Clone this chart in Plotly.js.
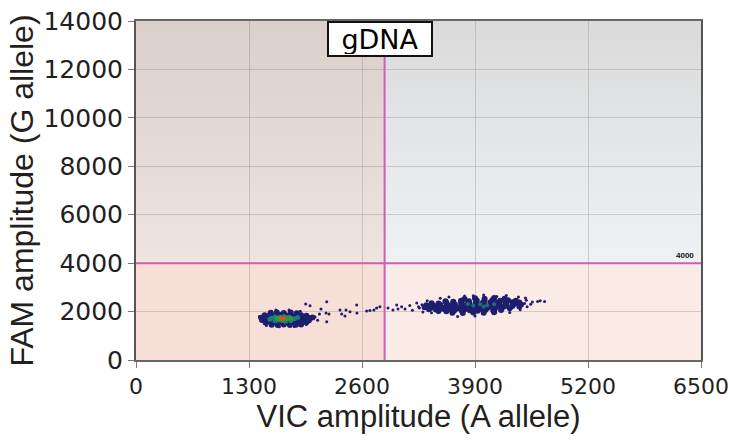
<!DOCTYPE html>
<html>
<head>
<meta charset="utf-8">
<script src="https://cdn.plot.ly/plotly-3.0.1.min.js"></script>
<style>
  html, body { margin: 0; padding: 0; background: #ffffff; }
  #chart { width: 730px; height: 441px; }
</style>
</head>
<body>
<div id="chart"></div>
<script>
// ---- axis ranges, ticks and thresholds ----
const xTicks = [0, 1300, 2600, 3900, 5200, 6500];
const yTicks = [0, 2000, 4000, 6000, 8000, 10000, 12000, 14000];
const xThreshold = 2860;
const yThreshold = 4000;
const yThresholdLabel = "4000";
const wellName = "gDNA";

// ---- droplets: right (A allele, VIC+) cluster core ----
const rightCore = [
  [3780,2520],[3900,2550],[4010,2530],[4120,2560],[4240,2530],
  [3560,2430],[3650,2410],[3740,2450],[3830,2430],[3920,2460],[4010,2440],[4100,2470],[4190,2450],[4280,2470],[4370,2450],
  [3400,2340],[3480,2330],[3570,2360],[3650,2340],[3740,2370],[3820,2350],[3910,2380],[3990,2360],[4080,2390],[4160,2370],[4250,2390],[4330,2380],[4410,2370],
  [3340,2260],[3420,2250],[3500,2280],[3590,2260],[3670,2290],[3760,2270],[3840,2300],[3930,2280],[4010,2310],[4100,2290],[4180,2320],[4260,2300],[4350,2310],[4430,2290],
  [3320,2180],[3400,2170],[3480,2200],[3560,2180],[3650,2210],[3730,2190],[3820,2220],[3900,2200],[3990,2230],[4070,2210],[4160,2240],[4240,2220],[4330,2230],[4410,2210],
  [3370,2100],[3450,2090],[3530,2120],[3620,2100],[3700,2130],[3790,2110],[3870,2140],[3960,2120],[4040,2150],[4130,2130],[4210,2150],[4300,2140],
  [3480,2020],[3570,2010],[3660,2040],[3750,2020],[3840,2050],[3930,2030],[4020,2060],[4110,2040],[4200,2060],
  [3640,1950],[3760,1940],[3880,1960],[4000,1950],[4120,1970]
];
// a few denser (teal) droplets inside the right cluster
const rightDense = [
  [3880,2250],[3960,2300],[4040,2260],[4120,2300],[3820,2310],[4000,2200]
];
// ---- sparse droplets: right cluster fringe and rain between clusters ----
const sparse = [
  [3150,2250],[3180,2050],[3230,2350],[3260,2150],[3290,2280],[3400,1950],[3500,2550],[3600,2600],
  [3880,2650],[4000,2680],[4150,2620],[4400,2600],[4490,2470],[4560,2400],[4620,2420],[4650,2450],
  [4500,2200],[4470,2330],[3700,1800],[3900,1820],[4300,1960],[3350,2450],[4420,2080],[4700,2420],
  [3780,2640],[4260,2660],[4480,2560],[3300,1980],[4540,2300],[3250,2200],
  [1952,2313],[2002,2243],[2128,2106],[2194,2408],[2186,1941],[2220,1900],[2194,1582],[2347,2065],
  [2366,1900],[2416,2065],[2404,1817],[2462,1995],[2539,2272],[2542,1941],[2653,2024],[2691,2044],
  [2737,2065],[2768,2148],[2806,2201],[2899,2148],[2956,2065],[2999,2272],[3056,2201],[3095,2106],
  [3014,2106],[2060,1780],[2090,1640],[1420,1800],[1610,2060],[1760,2060],[1890,2010],[1500,1420],
  [1960,1470],[2110,1900],[1650,1370],[1820,1380]
];
// ---- droplets: left (G allele, FAM+ VIC low) cluster ----
const leftCore = [
  [1550,1950],[1620,1960],[1700,1940],[1780,1960],[1850,1930],
  [1480,1850],[1540,1860],[1600,1840],[1660,1860],[1720,1850],[1780,1860],[1840,1840],[1900,1850],[1960,1830],
  [1440,1750],[1500,1760],[1560,1740],[1620,1760],[1680,1750],[1740,1760],[1800,1740],[1860,1760],[1920,1750],[1980,1740],[2030,1760],
  [1450,1650],[1510,1660],[1570,1640],[1630,1660],[1690,1650],[1750,1660],[1810,1640],[1870,1650],[1930,1660],[1990,1640],
  [1490,1550],[1550,1560],[1610,1540],[1670,1560],[1730,1550],[1790,1560],[1850,1540],[1910,1550],[1960,1560],
  [1560,1460],[1630,1450],[1700,1470],[1770,1450],[1840,1460],[1900,1470]
];
const leftTeal = [
  [1560,1720],[1600,1780],[1640,1650],[1700,1800],[1760,1770],[1820,1700],[1780,1620],[1600,1620],[1860,1760],[1540,1680],[1720,1600]
];
const leftGreen = [
  [1620,1720],[1660,1770],[1700,1680],[1740,1710],[1680,1640],[1780,1720],[1640,1700],[1720,1750]
];
const leftHot = [
  [1670,1710],[1700,1720],[1690,1690]
];

// ---------------------------------------------------------------
const NAVY = "#1e1e6e";
const xs = a => a.map(p => p[0]);
const ys = a => a.map(p => p[1]);
function pts(arr, color, size, name) {
  return { type: "scatter", mode: "markers", x: xs(arr), y: ys(arr), name: name,
    marker: { color: color, size: size, line: { width: 0 } }, hoverinfo: "x+y", showlegend: false };
}
const traces = [
  pts(sparse, NAVY, 3, "rain"),
  pts(rightCore, NAVY, 6, "VIC+"),
  pts(rightDense, "#1f6f7a", 4, "VIC+ dense"),
  pts(leftCore, NAVY, 6, "FAM+"),
  pts(leftTeal, "#1b7d7a", 5, "FAM+ dense"),
  pts(leftGreen, "#2e9a3c", 5, "FAM+ denser"),
  pts(leftHot, "#d9541a", 4, "FAM+ densest")
];

// quadrant background bands (styling)
function hex2rgb(h){ return [1,3,5].map(i => parseInt(h.substr(i,2),16)); }
function mix(a,b,t){ const A=hex2rgb(a),B=hex2rgb(b); return "rgb("+A.map((v,i)=>Math.round(v+(B[i]-v)*t)).join(",")+")"; }
const shapes = [];
const N = 60;
const xMax = xTicks[xTicks.length-1], yMax = yTicks[yTicks.length-1];
const step = (yMax - yThreshold) / N;
for (let i = 0; i < N; i++) {
  const y0 = yThreshold + step * i;
  const y1 = Math.min(yMax, y0 + step * 1.6);
  const t = (i + 0.5) / N;
  shapes.push({ type: "rect", layer: "below", xref: "x", yref: "y", x0: 0, x1: xThreshold, y0: y0, y1: y1,
    fillcolor: mix("#f0e4e0", "#dbcfcb", t), line: { width: 0 } });
  shapes.push({ type: "rect", layer: "below", xref: "x", yref: "y", x0: xThreshold, x1: xMax, y0: y0, y1: y1,
    fillcolor: mix("#eff2f5", "#dadada", t), line: { width: 0 } });
}
shapes.push({ type: "rect", layer: "below", x0: 0, x1: xThreshold, y0: 0, y1: yThreshold, fillcolor: "#f7ded6", line: { width: 0 } });
shapes.push({ type: "rect", layer: "below", x0: xThreshold, x1: xMax, y0: 0, y1: yThreshold, fillcolor: "#fbebe7", line: { width: 0 } });
// threshold lines
shapes.push({ type: "line", layer: "above", x0: xThreshold, x1: xThreshold, y0: 0, y1: yMax, line: { color: "#cc5fb8", width: 2 } });
shapes.push({ type: "line", layer: "above", x0: 0, x1: xMax, y0: yThreshold, y1: yThreshold, line: { color: "#cc5fb8", width: 2 } });

const FONT = "Liberation Sans, Arial, Helvetica, sans-serif";
const WIDE = "DejaVu Sans, Verdana, sans-serif";
const layout = {
  width: 730, height: 441,
  margin: { l: 136, r: 29, t: 21, b: 81, pad: 0 },
  paper_bgcolor: "#ffffff",
  plot_bgcolor: "rgba(0,0,0,0)",
  font: { family: FONT, color: "#231f20" },
  showlegend: false,
  xaxis: {
    range: [0, xMax], tickvals: xTicks, ticktext: xTicks.map(String),
    showgrid: true, gridcolor: "rgba(120,110,110,0.28)", gridwidth: 1, zeroline: false,
    showline: true, linecolor: "#666666", linewidth: 2, mirror: true,
    ticks: "outside", ticklen: 6, tickcolor: "#777777", tickwidth: 1,
    ticklabeloverflow: "allow",
    tickfont: { size: 22, family: WIDE, color: "#231f20" },
    title: { text: "VIC amplitude (A allele)", font: { size: 31, family: FONT, color: "#231f20" }, standoff: 0 }
  },
  yaxis: {
    range: [0, yMax], tickvals: yTicks, ticktext: yTicks.map(String),
    showgrid: true, gridcolor: "rgba(120,110,110,0.28)", gridwidth: 1, zeroline: false,
    showline: true, linecolor: "#555555", linewidth: 2, mirror: true,
    ticks: "outside", ticklen: 6, tickcolor: "#777777", tickwidth: 1,
    tickfont: { size: 25, family: WIDE, color: "#231f20" },
    title: { text: "FAM amplitude (G allele)", font: { size: 32, family: FONT, color: "#231f20" }, standoff: 0 }
  },
  shapes: shapes,
  annotations: [
    { xref: "paper", yref: "paper", x: 0.432, y: 1.0, xanchor: "center", yanchor: "top",
      text: wellName, showarrow: false, font: { size: 27, family: WIDE, color: "#000000" },
      width: 100, height: 30, align: "center", valign: "middle",
      bgcolor: "#ffffff", bordercolor: "#111111", borderwidth: 2, borderpad: 1 },
    { xref: "x", yref: "y", x: 6440, y: yThreshold, xanchor: "right", yanchor: "bottom", yshift: 1,
      text: "<b>" + yThresholdLabel + "</b>", showarrow: false, font: { size: 8, family: FONT, color: "#111111" } }
  ]
};

Plotly.newPlot("chart", traces, layout, { displayModeBar: false, staticPlot: true });
</script>
</body>
</html>
